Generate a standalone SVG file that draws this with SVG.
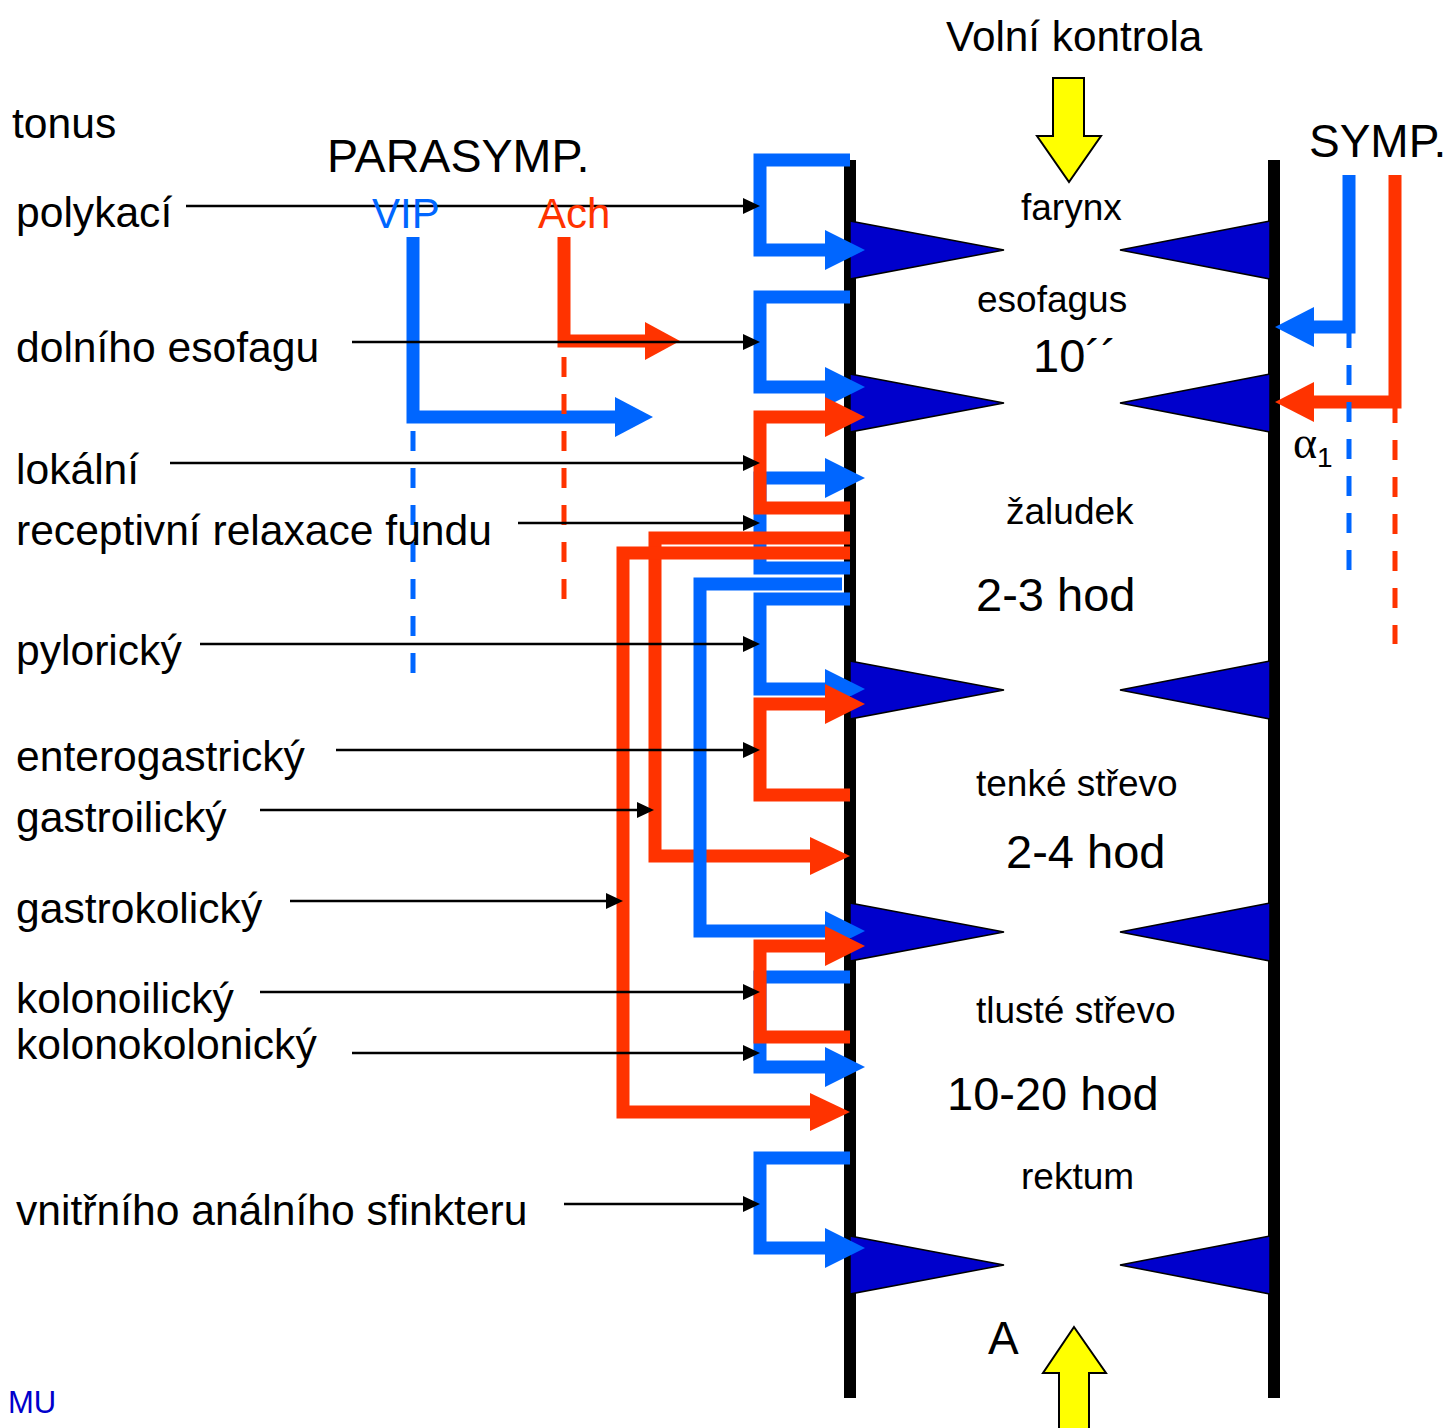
<svg xmlns="http://www.w3.org/2000/svg" width="1456" height="1428" viewBox="0 0 1456 1428">
<defs>
<marker id="ah" markerUnits="userSpaceOnUse" markerWidth="18" markerHeight="16" refX="7" refY="8" orient="auto"><path d="M0,0 L17,8 L0,16 z" fill="#000"/></marker>
</defs>
<style>
text{font-family:"Liberation Sans",Arial,sans-serif;fill:#000}
.lbl{font-size:42.6px}
.seg{font-size:37px}
.big{font-size:47px}
.wall{stroke:#000;stroke-width:12;fill:none}
.tri{fill:#0000CC;stroke:#000;stroke-width:1.5}
.b{stroke:#0066FF;stroke-width:13;fill:none;stroke-linejoin:miter}
.r{stroke:#FF3300;stroke-width:13;fill:none;stroke-linejoin:miter}
.hb{fill:#0066FF}
.hr{fill:#FF3300}
.db{stroke:#0066FF;stroke-width:5;stroke-dasharray:20 17;fill:none}
.dr{stroke:#FF3300;stroke-width:5;stroke-dasharray:20 17;fill:none}
.thin{stroke:#000;stroke-width:2.5;fill:none;marker-end:url(#ah)}
.yel{fill:#FFFF00;stroke:#000;stroke-width:2}
</style>
<rect width="1456" height="1428" fill="#fff"/>

<g id="walls">
<line class="wall" x1="850" y1="160" x2="850" y2="1398"/>
<line class="wall" x1="1274" y1="160" x2="1274" y2="1398"/>
</g>

<g id="sphincters">
<polygon class="tri" points="850,221 1004,250 850,279"/>
<polygon class="tri" points="1270,221 1120,250 1270,279"/>
<polygon class="tri" points="850,374 1004,403 850,432"/>
<polygon class="tri" points="1270,374 1120,403 1270,432"/>
<polygon class="tri" points="850,661 1004,690 850,719"/>
<polygon class="tri" points="1270,661 1120,690 1270,719"/>
<polygon class="tri" points="850,903 1004,932 850,961"/>
<polygon class="tri" points="1270,903 1120,932 1270,961"/>
<polygon class="tri" points="850,1236 1004,1265 850,1294"/>
<polygon class="tri" points="1270,1236 1120,1265 1270,1294"/>
</g>

<g id="connectors">
<path class="b" d="M850,160 H760 V250 H828"/><polygon class="hb" points="825,230 865,250 825,270"/>
<path class="b" d="M850,297 H760 V387 H828"/><polygon class="hb" points="825,367 865,387 825,407"/>
<path class="b" d="M828,478 H760 V568 H850"/><polygon class="hb" points="825,458 865,478 825,498"/>
<path class="b" d="M850,599 H760 V689 H828"/><polygon class="hb" points="825,669 865,689 825,709"/>
<path class="b" d="M850,977 H760 V1067 H828"/><polygon class="hb" points="825,1047 865,1067 825,1087"/>
<path class="b" d="M850,1158 H760 V1248 H828"/><polygon class="hb" points="825,1228 865,1248 825,1268"/>

<path class="r" d="M828,417 H760 V508 H850"/><polygon class="hr" points="825,397 865,417 825,437"/>
<path class="r" d="M850,538 H655 V856 H812"/><polygon class="hr" points="810,837 850,856 810,875"/>
<path class="r" d="M850,553 H623 V1112 H812"/><polygon class="hr" points="810,1093 850,1112 810,1131"/>

<path class="b" d="M842,584 H700 V931 H828"/><polygon class="hb" points="825,911 865,931 825,951"/>

<path class="r" d="M828,704 H760 V795 H850"/><polygon class="hr" points="825,684 865,704 825,724"/>
<path class="r" d="M828,946 H760 V1037 H850"/><polygon class="hr" points="825,926 865,946 825,966"/>

<path class="b" d="M413,237 V417 H618"/><polygon class="hb" points="615,397 653,417 615,437"/>
<path class="r" d="M564,237 V341 H647"/><polygon class="hr" points="645,322 680,341 645,360"/>
<line class="db" x1="413" y1="431" x2="413" y2="678"/>
<line class="dr" x1="564" y1="357" x2="564" y2="600"/>

<path class="b" d="M1349,175 V327 H1312"/><polygon class="hb" points="1314,307 1275,327 1314,347"/>
<path class="r" d="M1395,175 V402 H1312"/><polygon class="hr" points="1314,382 1275,402 1314,422"/>
<line class="db" x1="1349" y1="328" x2="1349" y2="573"/>
<line class="dr" x1="1395" y1="403" x2="1395" y2="644"/>

<line class="thin" x1="186" y1="206" x2="750" y2="206"/>
<line class="thin" x1="352" y1="342" x2="750" y2="342"/>
<line class="thin" x1="170" y1="463" x2="750" y2="463"/>
<line class="thin" x1="518" y1="523" x2="750" y2="523"/>
<line class="thin" x1="200" y1="644" x2="750" y2="644"/>
<line class="thin" x1="336" y1="750" x2="750" y2="750"/>
<line class="thin" x1="260" y1="810" x2="644" y2="810"/>
<line class="thin" x1="290" y1="901" x2="613" y2="901"/>
<line class="thin" x1="260" y1="992" x2="750" y2="992"/>
<line class="thin" x1="352" y1="1053" x2="750" y2="1053"/>
<line class="thin" x1="564" y1="1204" x2="750" y2="1204"/>

<polygon class="yel" points="1053,78 1084,78 1084,136 1101,136 1069,182 1037,136 1053,136"/>
<polygon class="yel" points="1074,1327 1106,1373 1089,1373 1089,1440 1059,1440 1059,1373 1043,1373"/>
</g>

<g id="headers">
<text x="946" y="51" style="font-size:42.3px">Volní kontrola</text>
<text class="lbl" x="12" y="138">tonus</text>
<text x="327" y="172" style="font-size:46.6px">PARASYMP.</text>
<text x="1309" y="157" style="font-size:46px">SYMP.</text>
<text x="372" y="228" style="font-size:42px;fill:#0066FF">VIP</text>
<text x="538" y="228" style="font-size:42px;fill:#FF3300">Ach</text>
<text x="1293" y="458" style="font-size:46px;font-family:'Liberation Serif',serif">α<tspan dy="9" style="font-size:28px;font-family:'Liberation Sans',sans-serif">1</tspan></text>
<text x="8" y="1413" style="font-size:31px;fill:#0000CC">MU</text>
</g>

<g id="labels">
<text class="lbl" x="16" y="227">polykací</text>
<text class="lbl" x="16" y="362">dolního esofagu</text>
<text class="lbl" x="16" y="484">lokální</text>
<text class="lbl" x="16" y="545">receptivní relaxace fundu</text>
<text class="lbl" x="16" y="665">pylorický</text>
<text class="lbl" x="16" y="771">enterogastrický</text>
<text class="lbl" x="16" y="832">gastroilický</text>
<text class="lbl" x="16" y="923">gastrokolický</text>
<text class="lbl" x="16" y="1013">kolonoilický</text>
<text class="lbl" x="16" y="1059">kolonokolonický</text>
<text class="lbl" x="16" y="1225">vnitřního análního sfinkteru</text>
</g>

<g id="segments">
<text class="seg" x="1021" y="220">farynx</text>
<text class="seg" x="977" y="312">esofagus</text>
<text class="big" x="1033" y="372">10´´</text>
<text class="seg" x="1006" y="524">žaludek</text>
<text class="big" x="976" y="611">2-3 hod</text>
<text class="seg" x="976" y="796">tenké střevo</text>
<text class="big" x="1006" y="868">2-4 hod</text>
<text class="seg" x="976" y="1023">tlusté střevo</text>
<text class="big" x="947" y="1110">10-20 hod</text>
<text class="seg" x="1021" y="1189">rektum</text>
<text x="988" y="1354" style="font-size:46px">A</text>
</g>
</svg>
